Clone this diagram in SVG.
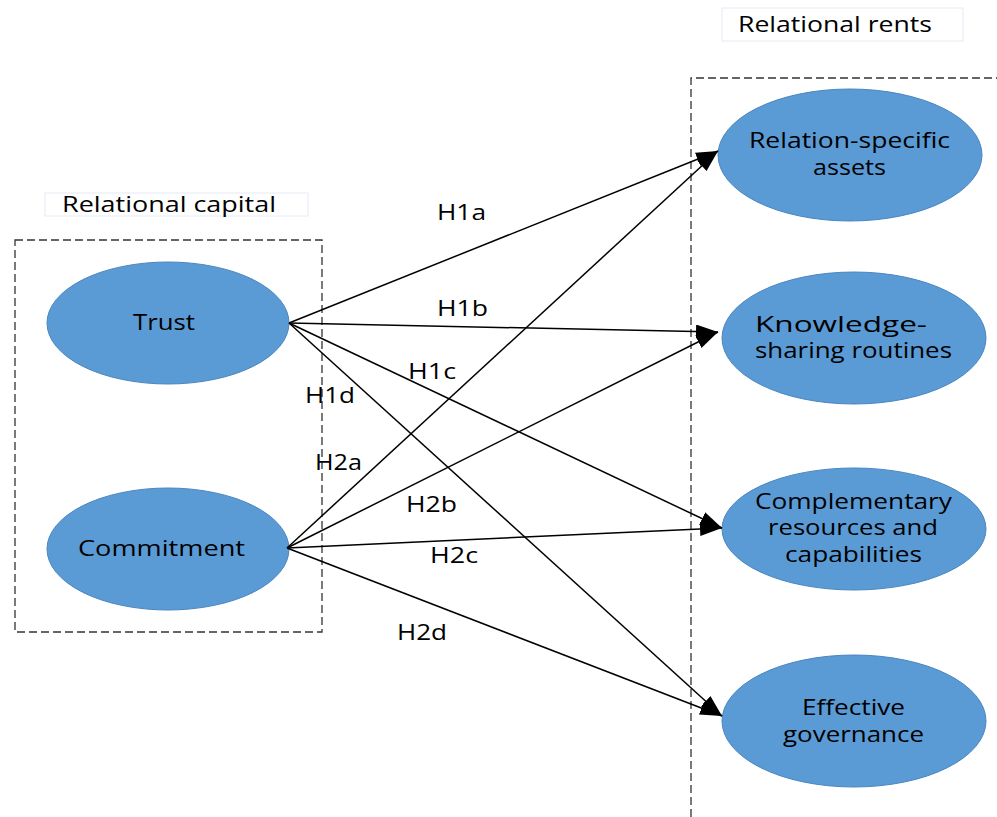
<svg xmlns="http://www.w3.org/2000/svg" width="997" height="817" viewBox="0 0 997 817">
<style>
text{font-family:"Open Sans","Liberation Sans",sans-serif;font-size:21px;fill:#000}
.node{fill:#5B9BD5;stroke:#4A86C0;stroke-width:1}
.dash{fill:none;stroke:#333;stroke-width:1.3;stroke-dasharray:8,4}
.tbox{fill:#fff;stroke:#e4ecf4;stroke-width:1}
.conn line{stroke:#000;stroke-width:1.5;marker-end:url(#ah)}
</style>
<defs>
<marker id="ah" markerUnits="userSpaceOnUse" markerWidth="24" markerHeight="16" refX="22" refY="7" orient="auto">
<path d="M0,0 L22,7 L0,14 Z" fill="#000"/>
</marker>
</defs>
<rect width="997" height="817" fill="#fff"/>
<g id="frames">
<rect class="dash" x="15" y="240" width="307" height="392"/>
<path class="dash" d="M691,817 L691,78 L997,78"/>
</g>
<g id="title-rents">
<rect class="tbox" x="722" y="8" width="241" height="33"/>
<text x="738" y="32" textLength="194" lengthAdjust="spacingAndGlyphs">Relational rents</text>
</g>
<g id="title-capital">
<rect class="tbox" x="45" y="193" width="263" height="23"/>
<text x="62" y="212" textLength="214" lengthAdjust="spacingAndGlyphs">Relational capital</text>
</g>
<g id="trust">
<ellipse class="node" cx="168" cy="323" rx="121" ry="61"/>
<text x="133" y="330" textLength="62" lengthAdjust="spacingAndGlyphs">Trust</text>
</g>
<g id="commitment">
<ellipse class="node" cx="168" cy="549" rx="121" ry="61"/>
<text x="78" y="556" textLength="167" lengthAdjust="spacingAndGlyphs">Commitment</text>
</g>
<g id="relation-specific">
<ellipse class="node" cx="850" cy="155" rx="132" ry="66"/>
<text x="749" y="148" textLength="201" lengthAdjust="spacingAndGlyphs">Relation-specific</text>
<text x="813" y="175" textLength="73" lengthAdjust="spacingAndGlyphs">assets</text>
</g>
<g id="knowledge">
<ellipse class="node" cx="854" cy="338" rx="132" ry="66"/>
<text x="755" y="332" textLength="172" lengthAdjust="spacingAndGlyphs">Knowledge-</text>
<text x="755" y="358" textLength="197" lengthAdjust="spacingAndGlyphs">sharing routines</text>
</g>
<g id="complementary">
<ellipse class="node" cx="854" cy="529" rx="132" ry="61"/>
<text x="755" y="509" textLength="197" lengthAdjust="spacingAndGlyphs">Complementary</text>
<text x="768" y="535" textLength="170" lengthAdjust="spacingAndGlyphs">resources and</text>
<text x="785" y="562" textLength="137" lengthAdjust="spacingAndGlyphs">capabilities</text>
</g>
<g id="governance">
<ellipse class="node" cx="854" cy="721" rx="132" ry="66"/>
<text x="802" y="715" textLength="103" lengthAdjust="spacingAndGlyphs">Effective</text>
<text x="783" y="742" textLength="141" lengthAdjust="spacingAndGlyphs">governance</text>
</g>
<g class="conn" id="connectors">
<line x1="289" y1="323" x2="718" y2="151"/>
<line x1="289" y1="323" x2="718" y2="332"/>
<line x1="289" y1="323" x2="722" y2="528"/>
<line x1="289" y1="323" x2="722" y2="716"/>
<line x1="287" y1="548" x2="718" y2="151"/>
<line x1="287" y1="548" x2="718" y2="332"/>
<line x1="287" y1="548" x2="722" y2="528"/>
<line x1="287" y1="548" x2="722" y2="716"/>
</g>
<g id="labels">
<text x="437" y="220" textLength="49" lengthAdjust="spacingAndGlyphs">H1a</text>
<text x="437" y="316" textLength="51" lengthAdjust="spacingAndGlyphs">H1b</text>
<text x="408" y="379" textLength="48" lengthAdjust="spacingAndGlyphs">H1c</text>
<text x="305" y="403" textLength="50" lengthAdjust="spacingAndGlyphs">H1d</text>
<text x="315" y="470" textLength="47" lengthAdjust="spacingAndGlyphs">H2a</text>
<text x="406" y="512" textLength="51" lengthAdjust="spacingAndGlyphs">H2b</text>
<text x="430" y="563" textLength="48" lengthAdjust="spacingAndGlyphs">H2c</text>
<text x="397" y="640" textLength="50" lengthAdjust="spacingAndGlyphs">H2d</text>
</g>
</svg>
